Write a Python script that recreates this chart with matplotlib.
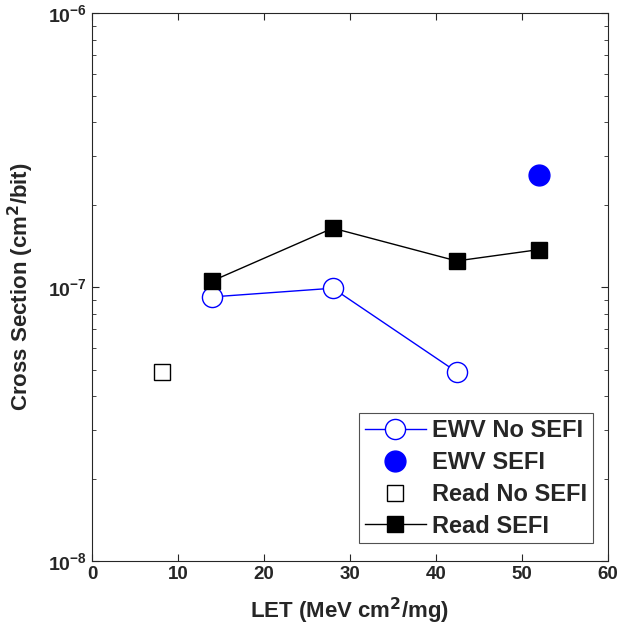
import matplotlib.pyplot as plt
import numpy as np

plt.rcParams['font.family'] = ['Liberation Sans', 'DejaVu Sans']
plt.rcParams['font.weight'] = 'bold'
plt.rcParams['mathtext.default'] = 'bf'

# EWV without SEFI
let_ewv = [13.9, 28.0, 42.4]
xs_ewv = [9.2e-8, 9.9e-8, 4.9e-8]
# EWV with SEFI
let_ewv_sefi = [52.0]
xs_ewv_sefi = [2.56e-7]
# Read without SEFI
let_read = [8.1]
xs_read = [4.9e-8]
# Read with SEFI
let_read_sefi = [13.9, 28.0, 42.4, 52.0]
xs_read_sefi = [1.05e-7, 1.64e-7, 1.245e-7, 1.37e-7]

grey = "#262626"

fig = plt.figure(figsize=(6.22, 6.32), dpi=100)
ax = fig.add_axes([0.148, 0.1123, 0.8295, 0.8671])

ax.plot(let_ewv, xs_ewv, "-o", color="blue", lw=1, ms=14.5, mfc="white", mew=1,
        label="EWV No SEFI")
ax.plot(let_ewv_sefi, xs_ewv_sefi, "o", color="blue", ms=15, label="EWV SEFI")
ax.plot(let_read, xs_read, "s", color="black", ms=11.5, mfc="white", mew=1,
        label="Read No SEFI")
ax.plot(let_read_sefi, xs_read_sefi, "-s", color="black", lw=1, ms=11.5,
        label="Read SEFI")

ax.set_yscale("log")
ax.set_xlim(0, 60)
ax.set_ylim(1e-8, 1e-6)
ax.set_xticks(np.arange(0, 61, 10))
ax.tick_params(which="both", direction="in", top=True, right=True,
               colors=grey, labelsize=13.5)
ax.tick_params(axis="y", labelsize=14)
ax.tick_params(which="major", length=5)
ax.tick_params(which="minor", length=3)
for s in ax.spines.values():
    s.set_color(grey)

ax.set_xlabel("LET (MeV cm$^2$/mg)", size=16, weight="bold", color=grey, labelpad=9)
ax.set_ylabel("Cross Section (cm$^2$/bit)", size=16, weight="bold", color=grey, labelpad=9)

leg = ax.legend(loc="lower right", bbox_to_anchor=(0.971, 0.032), borderaxespad=0,
                prop={"size": 17, "weight": "bold"},
                frameon=True, fancybox=False, edgecolor=grey, handlelength=2.6,
                handletextpad=0.25, borderpad=0.25, labelspacing=0.37)
leg.get_frame().set_linewidth(0.8)
for t in leg.get_texts():
    t.set_color(grey)

fig.savefig("out.png", dpi=100)
